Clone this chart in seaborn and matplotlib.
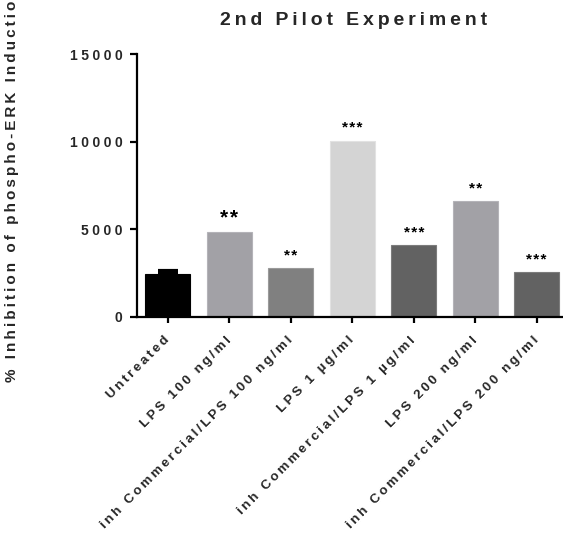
import matplotlib
matplotlib.use("Agg")
import matplotlib.pyplot as plt
import seaborn as sns
import pandas as pd

# Data
categories = [
    "Untreated",
    "LPS 100 ng/ml",
    "inh Commercial/LPS 100 ng/ml",
    "LPS 1 \u00b5g/ml",
    "inh Commercial/LPS 1 \u00b5g/ml",
    "LPS 200 ng/ml",
    "inh Commercial/LPS 200 ng/ml",
]
values = [2450, 4850, 2800, 10050, 4100, 6600, 2550]
errors = [170, 0, 0, 0, 0, 0, 0]
significance = ["", "**", "**", "***", "***", "**", "***"]
bar_colors = ["#000000", "#a2a1a6", "#808080", "#d4d4d4", "#626262", "#a2a1a6", "#626262"]
edge_colors = ["#000000", "#b4b3b8", "#9a9a9a", "#e2e2e2", "#7c7c7c", "#b4b3b8", "#7c7c7c"]
y_ticks = [0, 5000, 10000, 15000]

sns.set_style("white")
plt.rcParams["font.family"] = ["Liberation Sans", "DejaVu Sans"]
plt.rcParams["font.weight"] = "bold"


def spaced(text, gap="\u2009"):
    """Widen letter spacing by putting a thin space between characters."""
    return gap.join(text)


df = pd.DataFrame({"condition": categories, "value": values})

fig = plt.figure(figsize=(5.63, 5.37), dpi=100)
ax = fig.add_axes([137 / 563, 220 / 537, 430.5 / 563, 263 / 537])

sns.barplot(
    data=df, x="condition", y="value", hue="condition",
    palette=bar_colors, legend=False, width=0.73, ax=ax,
    errorbar=None, saturation=1,
)
for patch, ec in zip(ax.patches, edge_colors):
    patch.set_edgecolor(ec)
    patch.set_linewidth(0.8)

# Upper error bar on the untreated group
ax.errorbar(
    [0], [values[0]], yerr=[[0], [errors[0]]], fmt="none",
    ecolor="black", elinewidth=2, capsize=7.5, capthick=3,
)

# Significance marks
for i, (v, s) in enumerate(zip(values, significance)):
    if not s:
        continue
    size = 15 if i == 1 else 11
    ax.annotate(
        spaced(s, "\u200a"), xy=(i, v), xytext=(0, 6), textcoords="offset points",
        ha="center", va="baseline", fontsize=size, fontweight="bold", color="black",
    )

ax.set_ylim(0, 15000)
ax.set_xlim(-0.5, 6.5)
ax.set_yticks(y_ticks)
ax.set_yticklabels([spaced(str(t), "\u2005") for t in y_ticks], fontsize=10, fontweight="bold")
ax.set_xticks(range(len(categories)))
ax.set_xticklabels(
    [spaced(c) for c in categories], rotation=45, ha="right", va="center",
    rotation_mode="anchor", fontsize=9.6, fontweight="bold",
)
ax.set_xlabel("")

for side in ["top", "right"]:
    ax.spines[side].set_visible(False)
for side in ["left", "bottom"]:
    ax.spines[side].set_linewidth(1.6)
    ax.spines[side].set_color("black")

ax.tick_params(axis="both", which="both", direction="out", width=1.6, color="black")
ax.tick_params(axis="y", length=5, pad=5.5, left=True)
ax.tick_params(axis="x", length=4.5, pad=11, bottom=True)

ax.set_ylabel(spaced("% Inhibition of phospho-ERK Induction"), fontsize=11, fontweight="bold")
ax.yaxis.set_label_coords((12 - 137) / 430.5, 0.5)
ax.yaxis.label.set_va("center")

fig.text(354 / 563, 1 - 25 / 537, spaced("2nd Pilot Experiment"),
         ha="center", va="baseline", fontsize=14, fontweight="bold")

fig.savefig("out.png", dpi=100, facecolor="white")
